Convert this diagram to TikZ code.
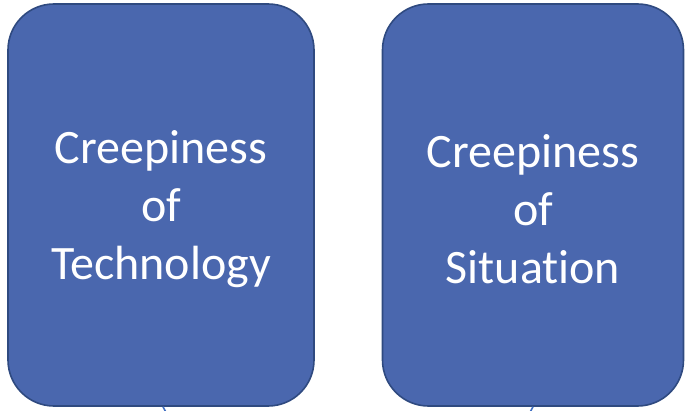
\documentclass[tikz,border=0pt]{standalone}
\usepackage{fontspec}
\setmainfont[Ligatures=NoCommon]{Carlito}
\usepackage{tikz}
\usetikzlibrary{positioning,calc}
\definecolor{boxfill}  {HTML}{4A67AE}
\definecolor{boxline}  {HTML}{2F4A80}
\definecolor{linkblue} {HTML}{4472C4}
\tikzset{
  % --- nodes
  creep/.style    = {rectangle, rounded corners=46pt, draw=boxline, fill=boxfill,
                     line width=1.6pt, minimum height=402pt, inner sep=0pt},
  creeptxt/.style = {text=white, align=center, inner sep=0pt,
                     font=\fontsize{48}{58}\selectfont},
  % --- edges
  link/.style     = {draw=linkblue, line width=1.6pt},
}
\begin{document}
\begin{tikzpicture}[x=1pt,y=1pt]
  \useasboundingbox (0,0) rectangle (685,410);
  \begin{scope}
    \clip (0,0) rectangle (685,410);
    \node[creep, minimum width=306pt] (tech) at (161,205) {};
    \node[creep, minimum width=301pt] (situ) at (533,205) {};
    \node[creeptxt] (techtxt) at ([yshift=-4pt]tech.center) {Creepiness\\of\\Technology};
    \node[creeptxt] (situtxt) at ([yshift=-4pt]situ.center) {Creepiness\\of\\Situation};
    % links leaving towards the part below
    \coordinate (techlow) at (168,-6);
    \coordinate (situlow) at (528,-6);
    \draw[link] ($(tech.south)+(2,0)$) -- (techlow);
    \draw[link] (situ.south) -- (situlow);
  \end{scope}
\end{tikzpicture}
\end{document}
